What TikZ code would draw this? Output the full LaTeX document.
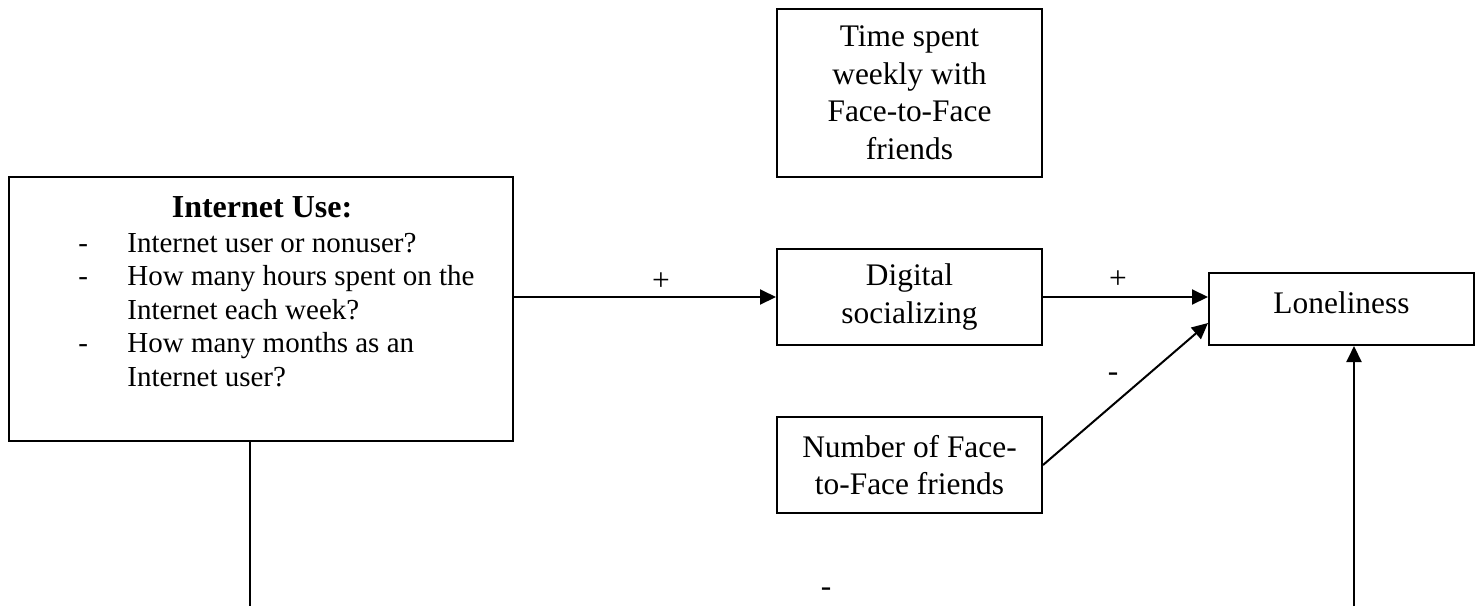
\documentclass[tikz,border=0pt]{standalone}
\usepackage{fontspec}
\setmainfont{Liberation Serif}
\usetikzlibrary{arrows.meta, calc, positioning}
\newcommand{\listdash}[1]{\par\noindent\hangindent=24.5pt\hangafter=1\makebox[24.5pt][l]{-}#1\par}

\begin{document}
\begin{tikzpicture}[x=0.5pt, y=-0.5pt,
		box/.style={draw, line width=1pt, inner sep=0pt, align=center, minimum width=132.5pt, font=\fontsize{15.7}{18.75}\selectfont},
		conn/.style={line width=1pt, -{Triangle[length=8pt, width=7.5pt]}},
		sign/.style={inner sep=0pt, font=\fontsize{15.7}{18.75}\selectfont}]
	\useasboundingbox (0,0) rectangle (1478,606);
	
	\node[box, minimum width=252pt, minimum height=132pt] (iu) at (261,309) {};
	\node[anchor=base, inner sep=0pt, font=\bfseries\fontsize{16}{19}\selectfont] (iutitle) at (262,217) {Internet Use:};
	\node[anchor=base west, inner sep=0pt, font=\fontsize{14.5}{16.75}\selectfont] (iulist) at (78,252) {\parbox[t]{206pt}{\raggedright
			\listdash{Internet user or nonuser?}
			\listdash{How many hours spent on the Internet each week?}
			\listdash{How many months as an Internet user?}}};
	
	\node[box, minimum height=84pt] (time) at (909.5,93) {Time spent\\weekly with\\Face-to-Face\\friends};
	\node[box, minimum height=48pt] (ds) at (909.5,297) {Digital\\socializing};
	\node[box, minimum height=48pt] (nf) at (909.5,465) {Number of Face-\\to-Face friends};
	\node[box, minimum height=36pt, text height=10pt, text depth=5.6pt] (lon) at (1341.5,309) {Loneliness};
	
	\draw[conn] (ds.west -| iu.east) -- (ds.west);
	\draw[conn] (ds.east) -- (ds.east -| lon.west);
	\draw[conn] (nf.east) -- ([yshift=-7pt]lon.west);
	
	\coordinate (iudown) at (250,606);
	\coordinate (lonup) at (1354,606);
	\draw[line width=1pt] (iudown |- iu.south) -- (iudown);
	\draw[conn] (lonup) -- (lonup |- lon.south);
	
	\node[sign] (plusone) at (661,282) {+};
	\node[sign] (plustwo) at (1118,280) {+};
	\node[sign] (minusone) at (1113,377) {-};
	\node[sign] (minustwo) at (826,592) {-};
\end{tikzpicture}
\end{document}
